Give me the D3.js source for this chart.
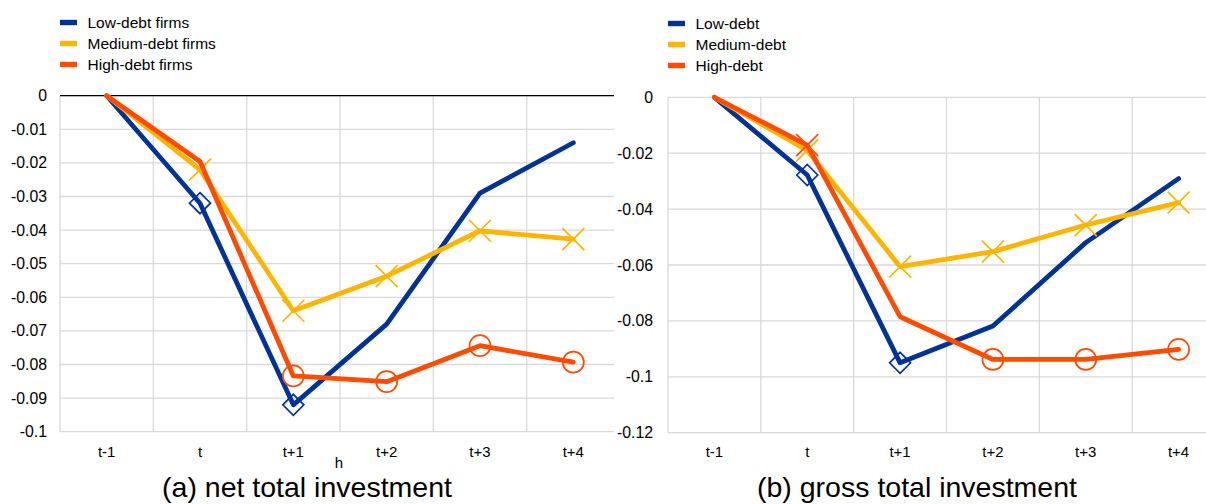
<!DOCTYPE html>
<html><head><meta charset="utf-8">
<script src="https://cdn.jsdelivr.net/npm/d3@7"></script>
<style>
body{margin:0;background:#fff;}
svg{display:block;font-family:"Liberation Sans",Arial,sans-serif;}
</style></head>
<body>
<svg id="c" width="1206" height="504"></svg>
<script>
const categories = ["t-1","t","t+1","t+2","t+3","t+4"];
// panel (a) net total investment
const netLow    = [0, -0.032, -0.092, -0.068, -0.029, -0.014];
const netMedium = [0, -0.022, -0.064, -0.0537, -0.0402, -0.0427];
const netHigh   = [0, -0.0196, -0.0834, -0.0851, -0.0744, -0.0793];
const netLowMarks    = ["", "diamond", "diamond", "", "", ""];
const netMediumMarks = ["", "x", "x", "x", "x", "x"];
const netHighMarks   = ["", "", "circle", "circle", "circle", "circle"];
// panel (b) gross total investment
const grossLow    = [0, -0.0278, -0.095, -0.0818, -0.052, -0.0291];
const grossMedium = [0, -0.019, -0.0606, -0.0552, -0.0457, -0.0377];
const grossHigh   = [0, -0.0171, -0.0785, -0.0938, -0.0938, -0.0902];
const grossLowMarks    = ["", "diamond", "diamond", "", "", ""];
const grossMediumMarks = ["", "x", "x", "x", "x", "x"];
const grossHighMarks   = ["", "x", "", "circle", "circle", "circle"];
// ticks
const netTicks = [0, -0.01, -0.02, -0.03, -0.04, -0.05, -0.06, -0.07, -0.08, -0.09, -0.1];
const grossTicks = [0, -0.02, -0.04, -0.06, -0.08, -0.1, -0.12];
const netLegend = ["Low-debt firms", "Medium-debt firms", "High-debt firms"];
const grossLegend = ["Low-debt", "Medium-debt", "High-debt"];
const captions = ["(a) net total investment", "(b) gross total investment"];
const colors = ["#003299", "#FFB400", "#FF4B00"];

const svg = d3.select("#c");
const fmt = d => d === 0 ? "0" : String(+d.toFixed(2));

function panel(cfg) {
  const x = d3.scalePoint().domain(categories).range([cfg.x0, cfg.x1]).padding(0.5);
  const y = d3.scaleLinear().domain(cfg.domain).range([cfg.yb, cfg.yt]);
  const step = x.step();
  const clipId = "clip" + cfg.id;
  svg.append("clipPath").attr("id", clipId).append("rect")
    .attr("x", cfg.x0 - 2).attr("y", 0).attr("width", cfg.clipR - cfg.x0 + 2).attr("height", 504);
  const g = svg.append("g").attr("clip-path", `url(#${clipId})`);
  // horizontal gridlines
  g.selectAll(".hg").data(cfg.ticks).join("line")
    .attr("x1", cfg.x0).attr("x2", cfg.x1)
    .attr("y1", d => y(d)).attr("y2", d => y(d))
    .attr("stroke", "#d9d9d9").attr("stroke-width", 1.3);
  // vertical gridlines at category boundaries
  const bounds = d3.range(categories.length + 1).map(i => cfg.x0 + i * step);
  g.selectAll(".vg").data(bounds).join("line")
    .attr("x1", d => d).attr("x2", d => d)
    .attr("y1", y(cfg.domain[1])).attr("y2", y(cfg.domain[0]))
    .attr("stroke", "#d9d9d9").attr("stroke-width", 1.3);
  if (cfg.blackZero) {
    g.append("line").attr("x1", cfg.x0).attr("x2", cfg.x1)
      .attr("y1", y(0)).attr("y2", y(0)).attr("stroke", "#000").attr("stroke-width", 1.3);
  }
  // y tick labels
  svg.append("g").selectAll("text").data(cfg.ticks).join("text")
    .attr("x", cfg.labelX).attr("y", d => y(d)).attr("dy", "0.35em")
    .attr("text-anchor", "end").attr("font-size", 15.8).attr("fill", "#000")
    .text(fmt);
  // x tick labels
  svg.append("g").selectAll("text").data(categories).join("text")
    .attr("x", d => x(d)).attr("y", cfg.xLabelY)
    .attr("text-anchor", "middle").attr("font-size", 15).attr("fill", "#000")
    .text(d => d);
  // series
  const line = d3.line().x((d, i) => x(categories[i])).y(d => y(d));
  cfg.series.forEach((s, si) => {
    const sg = g.append("g");
    sg.append("path").datum(s.values).attr("d", line)
      .attr("fill", "none").attr("stroke", colors[si]).attr("stroke-width", 4.8)
      .attr("stroke-linejoin", "round").attr("stroke-linecap", "round");
    s.values.forEach((v, i) => {
      const m = s.marks[i];
      const cx = x(categories[i]), cy = y(v);
      if (m === "diamond") {
        const r = 10.5;
        sg.append("path").attr("d", `M${cx},${cy - r}L${cx + r},${cy}L${cx},${cy + r}L${cx - r},${cy}Z`)
          .attr("fill", "none").attr("stroke", colors[si]).attr("stroke-width", 1.7);
      } else if (m === "x") {
        const r = 11;
        sg.append("path").attr("d", `M${cx - r},${cy - r}L${cx + r},${cy + r}M${cx - r},${cy + r}L${cx + r},${cy - r}`)
          .attr("fill", "none").attr("stroke", colors[si]).attr("stroke-width", 1.7);
      } else if (m === "circle") {
        sg.append("circle").attr("cx", cx).attr("cy", cy).attr("r", 10.5)
          .attr("fill", "none").attr("stroke", colors[si]).attr("stroke-width", 1.7);
      }
    });
  });
  // legend
  const lg = svg.append("g");
  cfg.legend.forEach((t, i) => {
    lg.append("rect").attr("x", cfg.legX).attr("y", cfg.legY + i * 21 - 2.7)
      .attr("width", 17).attr("height", 5.4).attr("fill", colors[i]);
    lg.append("text").attr("x", cfg.legX + 27.5).attr("y", cfg.legY + i * 21)
      .attr("dy", "0.35em").attr("font-size", 15.5).attr("fill", "#000").text(t);
  });
  // caption
  svg.append("text").attr("x", cfg.capX).attr("y", 497).attr("text-anchor", "middle")
    .attr("font-size", 28.5).attr("fill", "#000").text(cfg.caption);
}

panel({
  id: "a", x0: 60, x1: 620, clipR: 614, yt: 95.7, yb: 431.7, domain: [-0.1, 0],
  ticks: netTicks, labelX: 47, xLabelY: 457, blackZero: true,
  series: [
    {values: netLow, marks: netLowMarks},
    {values: netMedium, marks: netMediumMarks},
    {values: netHigh, marks: netHighMarks}
  ],
  legend: netLegend, legX: 60, legY: 22.5, caption: captions[0], capX: 307
});
svg.append("text").attr("x", 339).attr("y", 468).attr("text-anchor", "middle")
  .attr("font-size", 15).attr("fill", "#000").text("h");

panel({
  id: "b", x0: 668, x1: 1225, clipR: 1206, yt: 97.3, yb: 432.7, domain: [-0.12, 0],
  ticks: grossTicks, labelX: 653, xLabelY: 457, blackZero: false,
  series: [
    {values: grossLow, marks: grossLowMarks},
    {values: grossMedium, marks: grossMediumMarks},
    {values: grossHigh, marks: grossHighMarks}
  ],
  legend: grossLegend, legX: 668, legY: 23.5, caption: captions[1], capX: 917
});
</script>
</body></html>
